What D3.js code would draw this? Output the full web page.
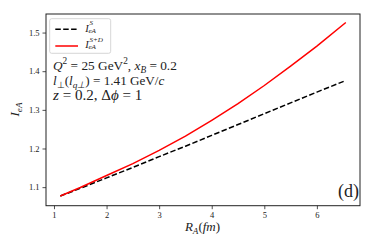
<!DOCTYPE html>
<html><head><meta charset="utf-8">
<script src="https://cdn.jsdelivr.net/npm/d3@7"></script>
<style>body{margin:0;background:#fff}svg{display:block}</style>
</head><body>
<script>
const RA = [1.12, 1.5, 2, 2.5, 3, 3.5, 4, 4.5, 5, 5.5, 6, 6.55];
const IeA_S = [1.077, 1.097, 1.124, 1.151, 1.179, 1.206, 1.234, 1.262, 1.290, 1.318, 1.346, 1.376];
const IeA_SD = [1.077, 1.099, 1.130, 1.161, 1.195, 1.232, 1.273, 1.316, 1.363, 1.413, 1.465, 1.526];
const xTicks = [1, 2, 3, 4, 5, 6];
const yTicks = [1.1, 1.2, 1.3, 1.4, 1.5];

const W = 374, H = 249;
const m = {l: 46, t: 14, r: 360, b: 205.7};
const font = "'Liberation Serif', serif";
const ink = "#222";
const svg = d3.select("body").append("svg").attr("width", W).attr("height", H);

const x = d3.scaleLinear().domain([0.848, 6.82]).range([m.l, m.r]);
const y = d3.scaleLinear().domain([1.052, 1.548]).range([m.b, m.t]);

const xa = svg.append("g").attr("transform", `translate(0,${m.b})`)
  .call(d3.axisBottom(x).tickValues(xTicks).tickFormat(d3.format("d")).tickSize(3.5).tickPadding(3));
const ya = svg.append("g").attr("transform", `translate(${m.l},0)`)
  .call(d3.axisLeft(y).tickValues(yTicks).tickFormat(d3.format(".1f")).tickSize(3.5).tickPadding(3));
[xa, ya].forEach(a => {
  a.select(".domain").remove();
  a.selectAll("line").attr("stroke", ink).attr("stroke-width", 0.8);
  a.selectAll("text").attr("font-family", font).attr("font-size", 8.5).attr("fill", ink);
});

const line = d3.line().x((d, i) => x(RA[i])).y(d => y(d));
svg.append("path").datum(IeA_S).attr("d", line).attr("fill", "none")
  .attr("stroke", "#000").attr("stroke-width", 1.5).attr("stroke-dasharray", "5.5,2.4");
svg.append("path").datum(IeA_SD).attr("d", line).attr("fill", "none")
  .attr("stroke", "#ff0000").attr("stroke-width", 1.5);

svg.append("rect").attr("x", m.l).attr("y", m.t).attr("width", m.r - m.l).attr("height", m.b - m.t)
  .attr("fill", "none").attr("stroke", ink).attr("stroke-width", 1);

function rich(parent, parts, fs, anchor) {
  const t = parent.append("text").attr("font-family", font).attr("font-size", fs).attr("fill", ink);
  if (anchor) t.attr("text-anchor", anchor);
  let level = 0;
  parts.forEach(([txt, st]) => {
    const s = t.append("tspan").text(txt);
    let target = 0;
    if (st === "sup") target = -0.42 * fs;
    if (st === "sub" || st === "subr") target = 0.22 * fs;
    if (target !== level) { s.attr("dy", target - level); level = target; }
    if (st === "i" || st === "sub" || st === "sup") s.attr("font-style", "italic");
    if (st === "sup" && /^[0-9]+$/.test(txt)) s.attr("font-style", null);
    if (st !== "r" && st !== "i") s.attr("font-size", fs * 0.7);
  });
  return t;
}
function fitted(parent, parts, x0, yb, width, anchor) {
  let t = rich(parent, parts, 10, anchor);
  const w = t.node().getBBox().width;
  t.remove();
  const fs = 10 * width / w;
  return rich(parent, parts, fs, anchor).attr("x", x0).attr("y", yb);
}

// legend
svg.append("rect").attr("x", 49.7).attr("y", 18.7).attr("width", 61).attr("height", 34.6).attr("rx", 2)
  .attr("fill", "#fff").attr("fill-opacity", 0.8).attr("stroke", "#ccc").attr("stroke-width", 0.8);
svg.append("line").attr("x1", 55.3).attr("x2", 78).attr("y1", 29.3).attr("y2", 29.3)
  .attr("stroke", "#000").attr("stroke-width", 1.5).attr("stroke-dasharray", "5.5,2.4");
svg.append("line").attr("x1", 55.3).attr("x2", 78).attr("y1", 46).attr("y2", 46)
  .attr("stroke", "#ff0000").attr("stroke-width", 1.5);

function legendLabel(x0, yb, sup, fs) {
  const t = svg.append("text").attr("x", x0).attr("y", yb).attr("font-family", font).attr("font-size", fs).attr("fill", ink);
  t.append("tspan").attr("font-style", "italic").text("I");
  const bx = x0 + fs * 0.3;
  t.append("tspan").attr("x", bx + 1).attr("dy", -fs * 0.62).attr("font-size", fs * 0.68).attr("font-style", "italic").text(sup);
  t.append("tspan").attr("x", bx).attr("dy", fs * 0.72).attr("font-size", fs * 0.68).attr("font-style", "italic").text("eA");
}
legendLabel(85.3, 31.7, "S", 10.5);
legendLabel(85.3, 48.3, "S+D", 10.5);

// annotation text
fitted(svg, [["Q", "i"], ["2", "sup"], [" = 25 GeV", "r"], ["2", "sup"], [", ", "r"], ["x", "i"], ["B", "sub"], [" = 0.2", "r"]], 53, 70, 124);
fitted(svg, [["l", "i"], ["⊥", "subr"], ["(", "r"], ["l", "i"], ["q⊥", "sub"], [") = 1.41 GeV/", "r"], ["c", "i"]], 53, 85.3, 112);
fitted(svg, [["z", "i"], [" = 0.2,  Δ", "r"], ["ϕ", "i"], [" = 1", "r"]], 53, 100.3, 91);

fitted(svg, [["(d)", "r"]], 359, 197.3, 21, "end");

// axis labels
rich(svg, [["R", "i"], ["A", "sub"], ["(", "r"], ["fm", "i"], [")", "r"]], 13, "middle").attr("x", 202.5).attr("y", 231);
rich(svg, [["I", "i"], ["eA", "sub"]], 13, "middle").attr("transform", "translate(19,109.5) rotate(-90)");
</script>
</body></html>
